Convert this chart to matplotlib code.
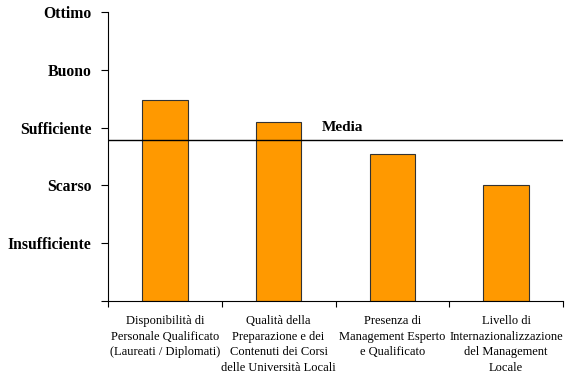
import matplotlib.pyplot as plt
import numpy as np

plt.rcParams['font.family'] = ['Liberation Serif', 'DejaVu Serif']

categorie = ['Disponibilità di\nPersonale Qualificato\n(Laureati / Diplomati)',
             'Qualità della\nPreparazione e dei\nContenuti dei Corsi\ndelle Università Locali',
             'Presenza di\nManagement Esperto\ne Qualificato',
             'Livello di\nInternazionalizzazione\ndel Management\nLocale']
valori = [3.48, 3.10, 2.55, 2.00]
giudizi = ['', 'Insufficiente', 'Scarso', 'Sufficiente', 'Buono', 'Ottimo']

media = np.mean(valori)

fig = plt.figure(figsize=(5.71, 3.76), dpi=100)
ax = fig.add_axes([108/571, 75/376, 455/571, 289/376])

x = np.arange(len(valori))
ax.bar(x, valori, width=0.4, color='#FF9900', edgecolor='#333333', linewidth=0.8)
ax.axhline(media, color='black', linewidth=1)
ax.text(1.38, media + 0.1, 'Media', fontsize=11, fontweight='bold', va='bottom')

ax.set_xlim(-0.5, len(valori) - 0.5)
ax.set_ylim(0, 5)

ax.set_yticks(range(len(giudizi)))
ax.set_yticklabels(giudizi, fontsize=11.3, fontweight='bold')
ax.tick_params(axis='y', length=5, width=0.8, pad=7)

ax.set_xticks(x)
ax.set_xticklabels(categorie, fontsize=9, linespacing=1.42)
ax.tick_params(axis='x', which='major', length=0, pad=10)
ax.set_xticks(np.arange(len(valori) + 1) - 0.5, minor=True)
ax.tick_params(axis='x', which='minor', length=4, width=0.8, direction='out')

for s in ['top', 'right']:
    ax.spines[s].set_visible(False)
for s in ['left', 'bottom']:
    ax.spines[s].set_linewidth(0.8)

fig.savefig('out.png', dpi=100)
